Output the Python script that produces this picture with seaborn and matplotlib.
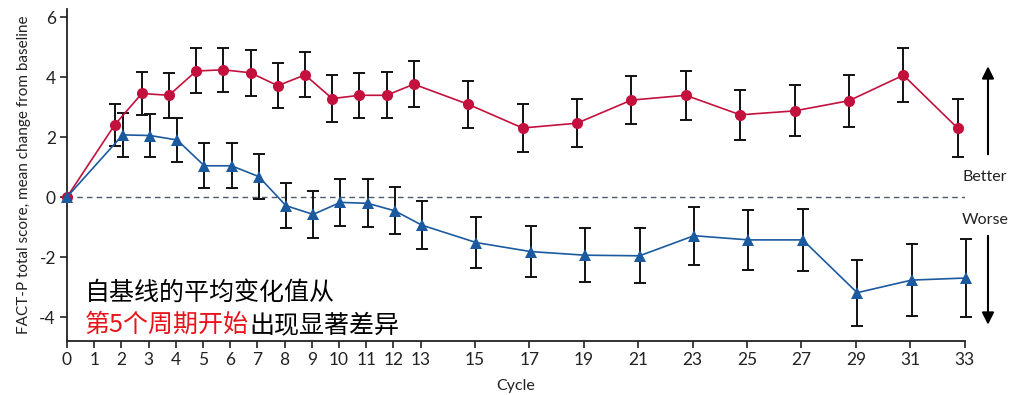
import pandas as pd
import matplotlib.pyplot as plt
import seaborn as sns

sns.set_theme(style="ticks")
plt.rcParams['font.family'] = ['Lato', 'DejaVu Sans']

# Data
cycles = [0, 2, 3, 4, 5, 6, 7, 8, 9, 10, 11, 12, 13, 15, 17, 19, 21, 23, 25, 27, 29, 31, 33]
red_mean = [0, 2.4, 3.45, 3.39, 4.2, 4.24, 4.14, 3.71, 4.07, 3.28, 3.39, 3.39, 3.76,
            3.09, 2.3, 2.46, 3.23, 3.39, 2.74, 2.87, 3.21, 4.06, 2.29]
red_err = [0, 0.7, 0.72, 0.75, 0.75, 0.73, 0.77, 0.75, 0.75, 0.77, 0.75, 0.77, 0.77,
           0.79, 0.79, 0.8, 0.8, 0.82, 0.83, 0.85, 0.87, 0.9, 0.96]
blue_mean = [0, 2.07, 2.05, 1.9, 1.04, 1.04, 0.68, -0.29, -0.58, -0.18, -0.21, -0.46, -0.94,
             -1.52, -1.82, -1.94, -1.96, -1.29, -1.43, -1.43, -3.19, -2.77, -2.7]
blue_err = [0, 0.72, 0.72, 0.73, 0.75, 0.75, 0.74, 0.75, 0.77, 0.78, 0.8, 0.78, 0.8,
            0.85, 0.85, 0.9, 0.92, 0.96, 1.0, 1.04, 1.1, 1.2, 1.3]
tick_cycles = list(range(0, 14)) + list(range(15, 34, 2))

red_col = "#C3103D"
blue_col = "#1B5A9F"

df = pd.concat([
    pd.DataFrame({"cycle": cycles, "mean": red_mean, "err": red_err, "group": "red"}),
    pd.DataFrame({"cycle": cycles, "mean": blue_mean, "err": blue_err, "group": "blue"}),
], ignore_index=True)
# small horizontal dodge so the two series don't sit on top of each other
df["x"] = df["cycle"] + df["group"].map({"red": -0.25, "blue": 0.05})
df.loc[df["cycle"] == 0, "x"] = 0

fig = plt.figure(figsize=(10.19, 3.95), dpi=100)
ax = fig.add_axes([67 / 1019, 54 / 395, 897.6 / 1019, 331.5 / 395])

ax.axhline(0, color="#4d5b6b", lw=1, ls=(0, (4, 3)), zorder=1)

sns.lineplot(data=df, x="x", y="mean", hue="group", style="group",
             palette={"red": red_col, "blue": blue_col},
             markers={"red": "o", "blue": "^"}, dashes=False,
             markersize=8, markeredgewidth=0, lw=1.2, legend=False,
             sort=False, ax=ax, zorder=4, clip_on=False)

for g in ["red", "blue"]:
    sub = df[(df["group"] == g) & (df["cycle"] > 0)]
    ax.errorbar(sub["x"], sub["mean"], yerr=sub["err"], fmt="none",
                ecolor="#111111", elinewidth=1.4, capsize=4, capthick=1.4,
                zorder=3, clip_on=False)

ax.set_xlim(0, 33)
ax.set_ylim(-4.8, 6.25)
ax.set_xticks(tick_cycles)
ax.set_yticks([-4, -2, 0, 2, 4, 6])
ax.set_yticklabels(["-4", "-2", "0", "2", "4", "6"])
ax.tick_params(labelsize=12.5, length=5, width=1.2, color="#222222",
               labelcolor="#222222", pad=3)
ax.set_xlabel("Cycle", fontsize=11.5, color="#222222", labelpad=8)
ax.set_ylabel("FACT-P total score, mean change from baseline", fontsize=11,
              color="#222222", labelpad=6)
for s in ["left", "bottom"]:
    ax.spines[s].set_linewidth(1.3)
    ax.spines[s].set_color("#222222")
sns.despine(ax=ax)

# Better / Worse arrows on the right
ax.annotate("", xy=(33.86, 4.45), xytext=(33.86, 1.33), annotation_clip=False,
            arrowprops=dict(arrowstyle="-|>", color="black", lw=1.5, mutation_scale=18))
ax.annotate("", xy=(33.86, -4.35), xytext=(33.86, -1.2), annotation_clip=False,
            arrowprops=dict(arrowstyle="-|>", color="black", lw=1.5, mutation_scale=18))
ax.text(33.75, 0.67, "Better", ha="center", va="center", fontsize=11.5, color="#222222")
ax.text(33.75, -0.77, "Worse", ha="center", va="center", fontsize=11.5, color="#222222")

cjk = ["Noto Sans CJK SC", "DejaVu Sans"]
ax.text(0.66, -3.2, "自基线的平均变化值从", ha="left", va="center",
        fontsize=18, family=cjk, color="black")
red_txt = ax.text(0.66, -4.27, "第5个周期开始", ha="left", va="center",
                  fontsize=18, family=cjk, color="#E8141B")
ax.annotate("出现显著差异", xy=(1, 0), xycoords=red_txt, ha="left", va="bottom",
            fontsize=18, family=cjk, color="black")

fig.savefig("out.png", dpi=100)
